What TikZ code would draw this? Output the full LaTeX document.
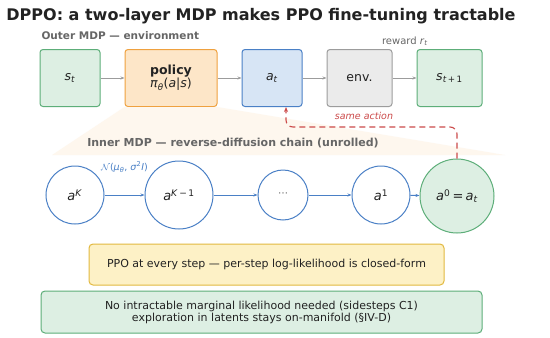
\documentclass[tikz,border=0pt]{standalone}
\usepackage{fontspec}
\setmainfont{DejaVu Sans}
\usepackage{xcolor}
\usetikzlibrary{positioning}
\usetikzlibrary{arrows.meta}

\definecolor{stategreen}{HTML}{DDEFE3}
\definecolor{statedraw}{HTML}{5DAE79}
\definecolor{policyfill}{HTML}{FDE6C8}
\definecolor{policydraw}{HTML}{EFA13F}
\definecolor{actfill}{HTML}{D7E5F5}
\definecolor{chainblue}{HTML}{4A80C6}
\definecolor{envfill}{HTML}{EBEBEB}
\definecolor{envdraw}{HTML}{9C9C9C}
\definecolor{ppofill}{HTML}{FDF1C6}
\definecolor{ppodraw}{HTML}{E2B940}
\definecolor{samered}{HTML}{CC4B4B}
\definecolor{fanfill}{HTML}{FEF7EE}
\definecolor{labelgray}{HTML}{666666}
\definecolor{textdark}{HTML}{222222}

\tikzset{
  outerbox/.style={draw, rounded corners=3pt, line width=1pt, minimum height=57pt,
    align=center, text=textdark, font=\fontsize{12.5}{14}\selectfont},
  chainnode/.style={circle, draw=chainblue, line width=1pt, fill=white, inner sep=0pt,
    text=textdark, font=\fontsize{13}{14}\selectfont},
  flowarrow/.style={-{Stealth[length=4pt,width=3pt]}, draw=envdraw, line width=1pt},
  chainarrow/.style={-{Stealth[length=4pt,width=3pt]}, draw=chainblue, line width=1pt},
  notebox/.style={draw, rounded corners=4pt, line width=1pt, align=center,
    text=textdark, font=\fontsize{11}{14}\selectfont}
}

\newcommand{\iv}[1]{\textit{#1}}

\begin{document}
\begin{tikzpicture}[x=1pt,y=-1pt]
\useasboundingbox (0,0) rectangle (550,338);
\fill[white] (0,0) rectangle (550,338);

% title and outer row
\node[font=\fontsize{16}{18}\bfseries\selectfont, text=textdark] (title) at (261,16)
  {DPPO: a two-layer MDP makes PPO fine-tuning tractable};
\node[anchor=west, font=\fontsize{10.5}{12}\bfseries\selectfont, text=labelgray] (outerlabel) at (38,36)
  {Outer MDP --- environment};

\node[outerbox, fill=stategreen, draw=statedraw, minimum width=60pt] (st) at (70,78) {\iv{s}\textsubscript{\iv{t}}};
\node[outerbox, fill=policyfill, draw=policydraw, minimum width=92pt] (policy) at (171,78)
  {\textbf{policy}\\[-1pt]\iv{π}\textsubscript{\iv{θ}}(\iv{a}|\iv{s})};
\node[outerbox, fill=actfill, draw=chainblue, minimum width=60pt] (at) at (272,78) {\iv{a}\textsubscript{\iv{t}}};
\node[outerbox, fill=envfill, draw=envdraw, minimum width=65pt] (env) at (359.5,78) {env.};
\node[outerbox, fill=stategreen, draw=statedraw, minimum width=65pt] (stnext) at (449.5,78) {\iv{s}\textsubscript{\iv{t}\,+\,1}};
\node[font=\fontsize{10}{12}\selectfont, text=labelgray] (reward) at (405,41) {reward \iv{r}\textsubscript{\iv{t}}};

\draw[flowarrow] (st) -- (policy);
\draw[flowarrow] (policy) -- (at);
\draw[flowarrow] (at) -- (env);
\draw[flowarrow] (env) -- (stnext);

% fan from the policy box down to the chain
\fill[fanfill] (policy.south west) -- (policy.south east) -- (505,155) -- (52,155) -- cycle;

\node[font=\fontsize{11}{13}\bfseries\selectfont, text=labelgray] (innerlabel) at (233,143)
  {Inner MDP --- reverse-diffusion chain (unrolled)};

% inner chain
\node[chainnode, minimum size=58pt] (aK) at (75,195) {\iv{a}\textsuperscript{\iv{K}}};
\node[chainnode, minimum size=68pt] (aKm) at (179,195) {\iv{a}\textsuperscript{\iv{K}\,−\,1}};
\node[chainnode, minimum size=50pt] (dots) at (283,195) {\textcolor{labelgray}{\fontsize{10}{12}\selectfont ⋯}};
\node[chainnode, minimum size=58pt] (aone) at (381,195) {\iv{a}\textsuperscript{1}};
\node[chainnode, fill=stategreen, draw=statedraw, minimum size=74pt] (azero) at (457,196)
  {\iv{a}\textsuperscript{0}\,=\,\iv{a}\textsubscript{\iv{t}}};

\draw[chainarrow] (aK) -- node[above=19pt, text=chainblue, font=\fontsize{9.5}{11}\selectfont]
  (gauss) {$\mathcal{N}$(\iv{μ}\textsubscript{\iv{θ}}, \iv{σ}\textsuperscript{2}\iv{I})} (aKm);
\draw[chainarrow] (aKm) -- (dots);
\draw[chainarrow] (dots) -- (aone);
\draw[chainarrow] (aone) -- (azero);

% same action feedback
\coordinate (bendright) at (457,127);
\coordinate (bendleft) at (286,127);
\draw[samered, line width=1.1pt, dash pattern=on 6pt off 4pt, rounded corners=7pt,
  -{Stealth[length=5pt,width=4pt]}] (azero.north) -- (bendright) -- (bendleft) -- (bendleft |- at.south);
\node[text=samered, font=\fontsize{9.5}{11}\itshape\selectfont] (samelabel) at (364,116) {same action};

% notes
\node[notebox, fill=ppofill, draw=ppodraw, minimum width=355pt, minimum height=41pt] (ppo) at (266.5,264.5)
  {PPO at every step --- per-step log-likelihood is closed-form};
\node[notebox, fill=stategreen, draw=statedraw, minimum width=441pt, minimum height=42pt] (sidestep) at (261.5,312)
  {No intractable marginal likelihood needed (sidesteps C1)\\[-2pt]exploration in latents stays on-manifold (§IV-D)};
\end{tikzpicture}
\end{document}
